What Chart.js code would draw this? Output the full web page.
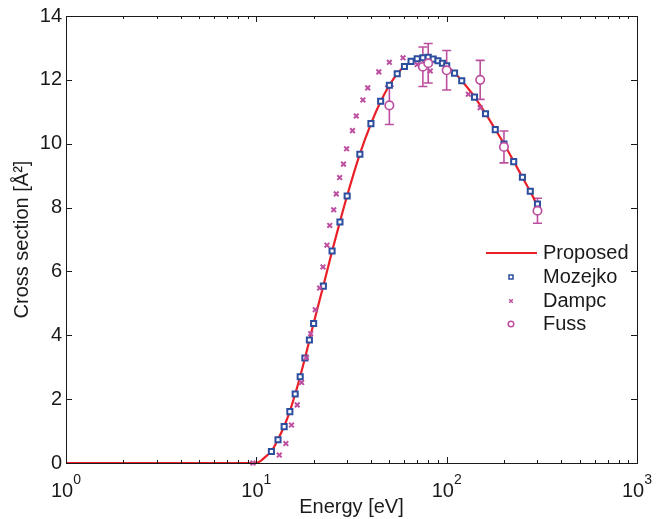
<!DOCTYPE html>
<html>
<head>
<meta charset="utf-8">
<script src="https://cdn.jsdelivr.net/npm/chart.js@4.4.1/dist/chart.umd.min.js"></script>
<style>
  html, body { margin: 0; padding: 0; background: #fff; }
</style>
</head>
<body>
<canvas id="chart" width="664" height="519"></canvas>
<script>
// values
var proposedE = [1, 10, 10.5, 11, 12, 13, 14, 15, 16, 17, 18, 19, 20, 22.5, 25, 27.5, 30, 35, 40, 45, 50, 55, 60, 65, 70, 75, 80, 85, 90, 95, 100, 110, 120, 140, 160, 180, 200, 225, 250, 275, 300];
var proposedCS = [0, 0, 0.06, 0.16, 0.37, 0.74, 1.15, 1.62, 2.16, 2.71, 3.28, 3.84, 4.38, 5.55, 6.63, 7.56, 8.37, 9.68, 10.62, 11.32, 11.83, 12.19, 12.42, 12.57, 12.66, 12.69, 12.70, 12.66, 12.61, 12.53, 12.44, 12.22, 11.97, 11.47, 10.95, 10.45, 10.0, 9.45, 8.95, 8.5, 8.05];

var mozejkoE = [12, 13, 14, 15, 16, 17, 18, 19, 20, 22.5, 25, 27.5, 30, 35, 40, 45, 50, 55, 60, 65, 70, 75, 80, 85, 90, 95, 100, 110, 120, 140, 160, 180, 200, 225, 250, 275, 300];
var mozejkoCS = [0.36, 0.73, 1.14, 1.61, 2.16, 2.70, 3.29, 3.85, 4.37, 5.54, 6.64, 7.55, 8.36, 9.67, 10.63, 11.33, 11.83, 12.19, 12.42, 12.58, 12.66, 12.69, 12.71, 12.65, 12.60, 12.52, 12.44, 12.21, 11.97, 11.46, 10.94, 10.44, 9.99, 9.44, 8.95, 8.51, 8.11];

var dampcE = [9.6, 13.2, 14.3, 15.3, 16.4, 17.3, 18.3, 19.3, 20.4, 21.5, 22.4, 23.5, 24.3, 25.5, 26.3, 27.4, 28.7, 29.8, 32, 33.5, 36.3, 38.5, 44, 50, 59, 70, 82, 130, 150];
var dampcCS = [0, 0.25, 0.61, 1.19, 1.82, 2.52, 3.30, 4.05, 4.80, 5.48, 6.14, 6.82, 7.44, 7.93, 8.43, 8.94, 9.36, 9.84, 10.41, 10.87, 11.37, 11.75, 12.25, 12.55, 12.69, 12.48, 12.28, 11.55, 11.13];

var fussE = [50, 75, 80, 100, 150, 200, 300];
var fussCS = [11.2, 12.41, 12.52, 12.3, 12.0, 9.9, 7.9];
var fussErr = [0.6, 0.62, 0.62, 0.62, 0.61, 0.5, 0.39];

var xTickValues = [1, 10, 100, 1000];

var RED = '#ea1f27';
var BLUE = '#2d4e9e';
var MAGENTA = '#bd4fa0';
var INK = '#1a1a1a';
var FONT = '"Liberation Sans", Arial, Helvetica, sans-serif';

function pairs(xs, ys) {
    return xs.map(function (x, i) { return { x: x, y: ys[i] }; });
}

// Matlab style frame, inward ticks, 10^n labels, legend and error bars
var matlabLook = {
    id: 'matlabLook',
    beforeDatasetsDraw: function (chart) {
        var ctx = chart.ctx, xs = chart.scales.x, ys = chart.scales.y;
        ctx.save();
        ctx.strokeStyle = MAGENTA;
        ctx.lineWidth = 1.6;
        fussE.forEach(function (e, i) {
            var px = xs.getPixelForValue(e);
            var hi = ys.getPixelForValue(fussCS[i] + fussErr[i]);
            var lo = ys.getPixelForValue(fussCS[i] - fussErr[i]);
            ctx.beginPath();
            ctx.moveTo(px, hi); ctx.lineTo(px, lo);
            ctx.moveTo(px - 4.5, hi); ctx.lineTo(px + 4.5, hi);
            ctx.moveTo(px - 4.5, lo); ctx.lineTo(px + 4.5, lo);
            ctx.stroke();
        });
        ctx.restore();
    },
    afterDraw: function (chart) {
        var ctx = chart.ctx, xs = chart.scales.x, ys = chart.scales.y;
        var a = chart.chartArea;
        ctx.save();
        ctx.strokeStyle = INK;
        ctx.lineWidth = 1;
        ctx.strokeRect(Math.round(a.left) + 0.5, Math.round(a.top) + 0.5,
            Math.round(a.right - a.left), Math.round(a.bottom - a.top));

        ctx.beginPath();
        [1, 10, 100].forEach(function (d) {
            for (var k = 1; k <= 9; k++) {
                var px = Math.round(xs.getPixelForValue(d * k)) + 0.5;
                var len = k === 1 ? 6 : 3;
                ctx.moveTo(px, a.bottom); ctx.lineTo(px, a.bottom - len);
                ctx.moveTo(px, a.top); ctx.lineTo(px, a.top + len);
            }
        });
        for (var v = 0; v <= 14; v += 2) {
            var py = Math.round(ys.getPixelForValue(v)) + 0.5;
            ctx.moveTo(a.left, py); ctx.lineTo(a.left + 6, py);
            ctx.moveTo(a.right, py); ctx.lineTo(a.right - 6, py);
        }
        ctx.stroke();

        // x tick labels as 10 with a raised exponent
        ctx.fillStyle = INK;
        ctx.textBaseline = 'alphabetic';
        ctx.textAlign = 'left';
        xTickValues.forEach(function (val) {
            var px = xs.getPixelForValue(val);
            var exp = String(Math.round(Math.log10(val)));
            ctx.font = '20px ' + FONT;
            var w1 = ctx.measureText('10').width;
            ctx.font = '14px ' + FONT;
            var w2 = ctx.measureText(exp).width;
            var start = px - (w1 + w2) / 2;
            ctx.font = '20px ' + FONT;
            ctx.fillText('10', start, a.bottom + 34);
            ctx.font = '14px ' + FONT;
            ctx.fillText(exp, start + w1, a.bottom + 21);
        });

        // legend
        var rows = [253, 277, 301, 324];
        var mx = 511;
        ctx.font = '20px ' + FONT;
        ctx.textBaseline = 'middle';
        ctx.fillText('Proposed', 543, rows[0]);
        ctx.fillText('Mozejko', 543, rows[1]);
        ctx.fillText('Dampc', 543, rows[2]);
        ctx.fillText('Fuss', 543, rows[3]);

        ctx.strokeStyle = RED;
        ctx.lineWidth = 2;
        ctx.beginPath();
        ctx.moveTo(486, rows[0]); ctx.lineTo(537, rows[0]);
        ctx.stroke();

        ctx.strokeStyle = BLUE;
        ctx.lineWidth = 1.5;
        ctx.strokeRect(mx - 2, rows[1] - 2, 4, 4);

        ctx.strokeStyle = MAGENTA;
        ctx.lineWidth = 1.5;
        ctx.beginPath();
        ctx.moveTo(mx - 1.8, rows[2] - 1.8); ctx.lineTo(mx + 1.8, rows[2] + 1.8);
        ctx.moveTo(mx - 1.8, rows[2] + 1.8); ctx.lineTo(mx + 1.8, rows[2] - 1.8);
        ctx.stroke();

        ctx.beginPath();
        ctx.arc(mx, rows[3], 2.8, 0, Math.PI * 2);
        ctx.stroke();
        ctx.restore();
    }
};

var ctx = document.getElementById('chart').getContext('2d');
var myChart = new Chart(ctx, {
    type: 'scatter',
    data: {
        datasets: [{
            label: 'Proposed',
            data: pairs(proposedE, proposedCS),
            showLine: true,
            borderColor: RED,
            borderWidth: 2.2,
            pointRadius: 0,
            cubicInterpolationMode: 'monotone',
            order: 4
        }, {
            label: 'Mozejko',
            data: pairs(mozejkoE, mozejkoCS),
            pointStyle: 'rect',
            pointRadius: 3.6,
            borderWidth: 2,
            borderColor: BLUE,
            backgroundColor: '#fff',
            order: 3
        }, {
            label: 'Dampc',
            data: pairs(dampcE, dampcCS),
            pointStyle: 'crossRot',
            pointRadius: 3.3,
            borderWidth: 2,
            borderColor: MAGENTA,
            clip: 8,
            order: 2
        }, {
            label: 'Fuss',
            data: pairs(fussE, fussCS),
            pointStyle: 'circle',
            pointRadius: 4.2,
            borderWidth: 1.7,
            borderColor: MAGENTA,
            backgroundColor: '#fff',
            order: 1
        }]
    },
    options: {
        responsive: false,
        animation: false,
        layout: { padding: { left: 0, right: 27, top: 15, bottom: 0 } },
        plugins: {
            legend: { display: false },
            tooltip: { enabled: false }
        },
        scales: {
            x: {
                type: 'logarithmic',
                min: 1,
                max: 1000,
                ticks: { display: false },
                grid: { display: false, drawTicks: false },
                border: { display: false },
                title: {
                    display: true,
                    text: 'Energy [eV]',
                    color: INK,
                    font: { family: FONT, size: 20, lineHeight: 1.2 },
                    padding: { top: 0, bottom: 0 }
                },
                afterFit: function (s) { s.height = 56; }
            },
            y: {
                min: 0,
                max: 14,
                ticks: { stepSize: 2, color: INK, padding: 4, font: { family: FONT, size: 20 } },
                grid: { display: false, drawTicks: false },
                border: { display: false },
                title: {
                    display: true,
                    text: 'Cross section [Å²]',
                    color: INK,
                    font: { family: FONT, size: 20, lineHeight: 1.2 },
                    padding: { top: 10, bottom: 0 }
                },
                afterFit: function (s) { s.width = 66; }
            }
        }
    },
    plugins: [matlabLook]
});
</script>
</body>
</html>
